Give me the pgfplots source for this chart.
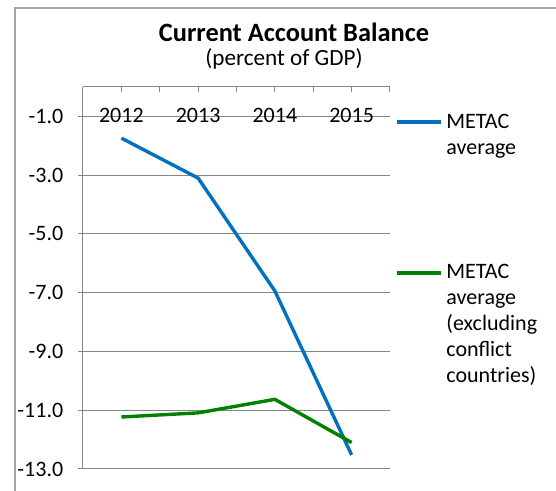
\documentclass[border=0pt]{standalone}
\usepackage{pgfplots}
\pgfplotsset{compat=1.18}
\usepackage{fontspec}
\setmainfont{Carlito}
\definecolor{cblue}{RGB}{0,112,192}
\definecolor{cgreen}{RGB}{0,128,0}
\definecolor{gridgray}{RGB}{134,134,134}
\definecolor{bordergray}{RGB}{166,166,166}
\begin{document}
\begin{tikzpicture}
\useasboundingbox (-41.5pt,-11pt) rectangle (236.5pt,234.5pt);
\draw[bordergray,line width=1pt] (-34pt,-40pt) -- (-34pt,230.5pt) -- (280pt,230.5pt);
\begin{axis}[
  scale only axis,
  width=153.5pt, height=191pt,
  at={(0,0)}, anchor=south west,
  xmin=0.5, xmax=4.5, ymin=-13, ymax=0,
  axis x line*=top, axis y line*=left,
  axis line style={gridgray, line width=0.5pt, -},
  xtick={1,2,3,4},
  xticklabels={2012,2013,2014,2015},
  minor xtick={0.5,1.5,2.5,3.5,4.5},
  ytick={-13,-11,-9,-7,-5,-3,-1},
  yticklabels={-13.0,-11.0,-9.0,-7.0,-5.0,-3.0,-1.0},
  tick align=inside,
  major tick length=2.5pt, minor tick length=2.5pt,
  tick style={gridgray, line width=0.5pt},
  y tick style={xshift=-2.5pt},
  ymajorgrids,
  grid style={gridgray, line width=0.5pt},
  xticklabel style={anchor=north, yshift=-6.85pt, font=\fontsize{11}{13.2}\selectfont},
  yticklabel style={xshift=-6.35pt, font=\fontsize{11}{13.2}\selectfont},
  clip=false,
]
\addplot[cblue, line width=1.7pt, no marks] coordinates {(1,-1.74) (2,-3.10) (3,-6.94) (4,-12.52)};
\addplot[cgreen, line width=1.7pt, no marks] coordinates {(1,-11.23) (2,-11.09) (3,-10.63) (4,-12.10)};
\end{axis}
\node[anchor=base, inner sep=0pt, font=\fontsize{13.2}{15.8}\selectfont\bfseries] at (105.5pt,213.5pt) {Current Account Balance};
\node[anchor=base, inner sep=0pt, font=\fontsize{11.6}{13.8}\selectfont] at (100.5pt,201.5pt) {(percent of GDP)};
\draw[cblue, line width=1.7pt] (157pt,173.5pt) -- (179pt,173.5pt);
\draw[cgreen, line width=1.7pt] (157pt,98pt) -- (179pt,98pt);
\node[anchor=base west, inner sep=0pt, font=\fontsize{11}{13}\selectfont] at (181.5pt,170pt) {\begin{tabular}[t]{@{}l@{}}METAC\\average\end{tabular}};
\node[anchor=base west, inner sep=0pt, font=\fontsize{11}{13}\selectfont] at (181.5pt,95pt) {\begin{tabular}[t]{@{}l@{}}METAC\\average\\(excluding\\conflict\\countries)\end{tabular}};
\end{tikzpicture}
\end{document}
